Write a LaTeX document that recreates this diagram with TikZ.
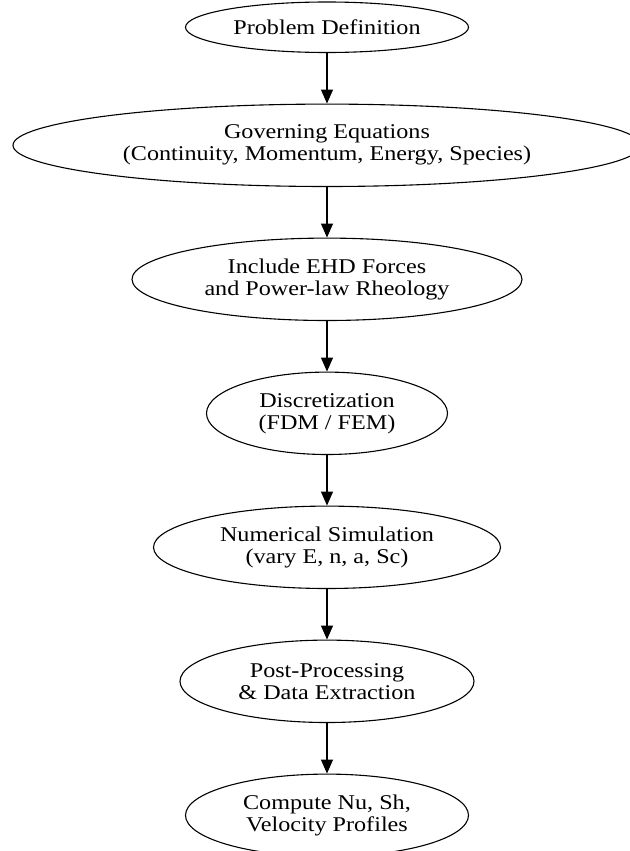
\documentclass[tikz,border=0pt]{standalone}
\usepackage{fontspec}
\setmainfont{Liberation Serif}[FakeStretch=1.15]
\usetikzlibrary{shapes.geometric, arrows.meta, positioning}

\begin{document}
\begin{tikzpicture}[
    node distance=50.5pt,
    stage/.style = {ellipse, draw, line width=1.1pt, inner sep=1pt, minimum height=82.4pt, align=center, font=\fontsize{21}{22}\selectfont},
    arrow/.style = {-{Triangle[length=14pt, width=12pt]}, line width=1.1pt}
]

% --- page frame ---
\path[fill=white, use as bounding box] (-327pt,27.25pt) rectangle (302pt,-823.75pt);

% --- stages ---
\node[stage, minimum width=283pt, minimum height=50.5pt] (problem) at (0,0) {Problem Definition};
\node[stage, minimum width=628pt, below=of problem] (governing) {Governing Equations\\ (Continuity, Momentum, Energy, Species)};
\node[stage, minimum width=390pt, below=of governing] (ehd) {Include EHD Forces\\ and Power-law Rheology};
\node[stage, minimum width=241pt, below=of ehd] (discret) {Discretization\\ (FDM / FEM)};
\node[stage, minimum width=347pt, below=of discret] (sim) {Numerical Simulation\\ (vary E, n, a, Sc)};
\node[stage, minimum width=294pt, below=of sim] (post) {Post-Processing\\ \& Data Extraction};
\node[stage, minimum width=283pt, below=of post] (compute) {Compute Nu, Sh,\\ Velocity Profiles};

% --- Arrows ---
\draw[arrow] (problem) -- (governing);
\draw[arrow] (governing) -- (ehd);
\draw[arrow] (ehd) -- (discret);
\draw[arrow] (discret) -- (sim);
\draw[arrow] (sim) -- (post);
\draw[arrow] (post) -- (compute);

\end{tikzpicture}
\end{document}
